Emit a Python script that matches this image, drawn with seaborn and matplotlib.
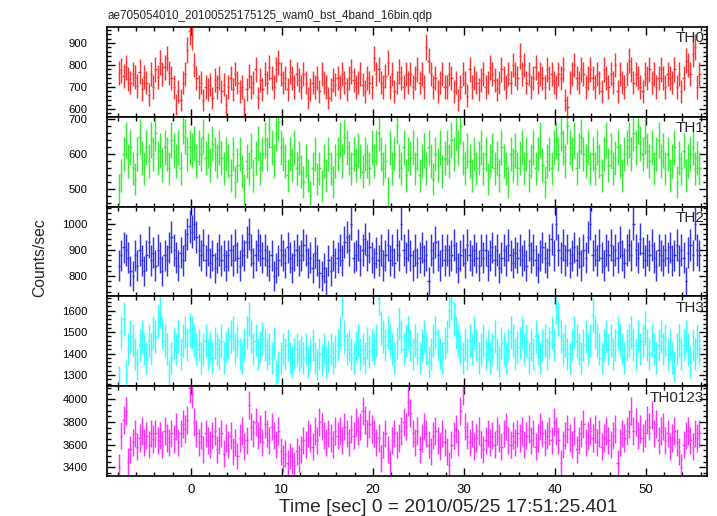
import numpy as np
import pandas as pd
import seaborn as sns
import matplotlib
matplotlib.use("Agg")
import matplotlib.pyplot as plt
from matplotlib.ticker import MultipleLocator

# ---- data (rates in counts/sec, 0.25 s bins starting at t = -8 s) ----
title = "ae705054010_20100525175125_wam0_bst_4band_16bin.qdp"
xlabel = "Time [sec] 0 = 2010/05/25 17:51:25.401"
ylabel = "Counts/sec"

t_start = -8.0
bin_width = 0.25

bands = ["TH0", "TH1", "TH2", "TH3", "TH0123"]
colors = ["#ff3535", "#35ee35", "#3535ee", "#35ffff", "#ff35ff"]

th0 = [765, 775, 750, 790, 735, 720, 760, 745, 705, 770, 690, 745, 720, 665, 760, 700,
       780, 745, 810, 760, 790, 830, 765, 740, 700, 620, 680, 640, 720, 760, 870, 955,
       930, 800, 740, 700, 720, 640, 700, 690, 710, 650, 730, 700, 740, 680, 710, 620,
       700, 740, 690, 760, 720, 680, 700, 600, 690, 750, 700, 720, 780, 650, 730, 690,
       760, 720, 790, 740, 700, 780, 810, 760, 720, 740, 690, 770, 740, 700, 760, 730,
       700, 760, 720, 650, 690, 720, 700, 740, 680, 760, 720, 700, 650, 690, 730, 710,
       740, 700, 760, 720, 690, 740, 770, 730, 700, 720, 760, 710, 680, 740, 720, 700,
       830, 760, 780, 720, 700, 750, 810, 700, 760, 680, 720, 770, 740, 700, 760, 720,
       760, 700, 740, 780, 720, 760, 700, 880, 820, 760, 700, 740, 680, 720, 760, 700,
       700, 760, 740, 680, 720, 640, 700, 760, 720, 660, 780, 700, 740, 720, 690, 730,
       760, 700, 720, 790, 760, 730, 690, 720, 780, 740, 700, 760, 720, 800, 760, 740,
       840, 760, 800, 720, 760, 700, 740, 790, 720, 760, 740, 700, 780, 740, 760, 720,
       700, 760, 740, 780, 640, 610, 720, 760, 800, 740, 720, 780, 760, 700, 740, 780,
       740, 700, 760, 720, 680, 780, 740, 700, 760, 720, 800, 680, 760, 720, 700, 760,
       820, 780, 720, 760, 740, 700, 680, 760, 740, 780, 720, 760, 700, 740, 780, 740,
       700, 760, 740, 720, 780, 700, 760, 680, 740, 820, 800, 760, 850, 880, 700, 760]

th1 = [500, 540, 600, 640, 580, 620, 560, 530, 600, 650, 590, 560, 620, 580, 640, 600,
       660, 590, 610, 570, 620, 600, 560, 640, 610, 580, 620, 560, 680, 650, 600, 620,
       610, 630, 580, 620, 600, 650, 590, 610, 570, 630, 600, 580, 620, 590, 560, 600,
       580, 540, 600, 520, 570, 600, 550, 500, 580, 560, 610, 540, 590, 630, 560, 600,
       640, 600, 670, 620, 580, 660, 690, 620, 600, 580, 540, 600, 570, 620, 560, 590,
       550, 520, 580, 540, 480, 560, 600, 530, 560, 510, 580, 540, 600, 560, 520, 580,
       600, 640, 580, 650, 620, 590, 560, 600, 570, 610, 580, 550, 600, 580, 560, 620,
       580, 620, 660, 600, 560, 580, 490, 620, 560, 600, 680, 580, 560, 620, 540, 600,
       590, 620, 560, 600, 540, 580, 610, 560, 620, 580, 530, 600, 570, 620, 550, 590,
       620, 580, 640, 600, 660, 620, 680, 590, 560, 610, 580, 540, 600, 560, 590, 620,
       560, 600, 530, 580, 610, 560, 590, 540, 620, 580, 560, 520, 600, 570, 610, 560,
       590, 620, 560, 600, 540, 580, 620, 560, 600, 640, 570, 520, 580, 600, 560, 620,
       640, 600, 660, 620, 580, 680, 620, 600, 640, 560, 610, 650, 600, 580, 620, 560,
       600, 560, 620, 580, 540, 600, 640, 570, 610, 560, 590, 620, 580, 540, 600, 620,
       640, 600, 660, 620, 680, 630, 600, 650, 610, 580, 620, 560, 600, 640, 580, 610,
       560, 600, 540, 580, 620, 520, 590, 560, 610, 540, 580, 600, 620, 560, 590, 560]

th2 = [840, 880, 910, 900, 870, 820, 800, 880, 840, 900, 860, 820, 880, 930, 860, 890,
       840, 900, 870, 820, 880, 860, 910, 950, 900, 870, 840, 890, 860, 920, 960, 990,
       970, 1000, 950, 900, 880, 920, 860, 900, 850, 880, 830, 870, 900, 860, 880, 840,
       880, 900, 860, 920, 870, 840, 900, 880, 930, 960, 900, 850, 880, 920, 900, 870,
       900, 860, 840, 880, 800, 830, 860, 900, 880, 850, 910, 870, 830, 880, 900, 860,
       880, 920, 900, 850, 870, 830, 890, 860, 810, 800, 830, 780, 860, 820, 880, 850,
       870, 900, 860, 930, 950, 900, 1000, 870, 880, 920, 860, 900, 940, 880, 910, 870,
       850, 890, 860, 900, 840, 880, 920, 860, 900, 850, 920, 880, 1000, 900, 870, 920,
       880, 840, 900, 850, 870, 910, 860, 880, 780, 900, 870, 930, 880, 840, 900, 860,
       900, 860, 880, 920, 870, 830, 880, 900, 850, 920, 880, 860, 900, 870, 840, 900,
       870, 900, 840, 880, 910, 860, 900, 830, 870, 900, 860, 920, 880, 850, 890, 870,
       900, 860, 880, 840, 920, 870, 900, 860, 830, 880, 910, 870, 850, 900, 940, 880,
       1000, 900, 870, 920, 860, 900, 850, 880, 910, 860, 890, 840, 900, 870, 950, 1000,
       880, 900, 860, 920, 870, 840, 900, 880, 920, 860, 900, 870, 930, 880, 850, 900,
       920, 880, 1000, 900, 870, 940, 890, 860, 900, 880, 920, 870, 840, 900, 880, 860,
       900, 870, 910, 860, 880, 920, 860, 900, 870, 780, 890, 920, 880, 1000, 900, 880]

th3 = [1270, 1500, 1560, 1300, 1420, 1480, 1460, 1400, 1350, 1440, 1480, 1420, 1380, 1460, 1420, 1500,
       1480, 1550, 1600, 1500, 1460, 1420, 1300, 1380, 1450, 1420, 1480, 1400, 1460, 1500, 1440, 1510,
       1500, 1460, 1420, 1440, 1380, 1420, 1460, 1400, 1430, 1380, 1450, 1420, 1400, 1460, 1380, 1430,
       1450, 1480, 1500, 1420, 1460, 1400, 1380, 1440, 1500, 1560, 1480, 1420, 1460, 1400, 1430, 1470,
       1440, 1400, 1420, 1380, 1450, 1300, 1340, 1380, 1420, 1400, 1440, 1380, 1360, 1400, 1420, 1390,
       1410, 1380, 1420, 1360, 1400, 1440, 1380, 1350, 1400, 1370, 1420, 1360, 1390, 1420, 1380, 1410,
       1440, 1500, 1650, 1480, 1420, 1440, 1400, 1380, 1430, 1460, 1400, 1420, 1380, 1450, 1410, 1440,
       1420, 1460, 1660, 1520, 1480, 1440, 1500, 1460, 1420, 1380, 1450, 1540, 1480, 1420, 1460, 1500,
       1440, 1400, 1460, 1420, 1380, 1440, 1480, 1420, 1360, 1400, 1460, 1500, 1440, 1400, 1380, 1450,
       1480, 1600, 1640, 1560, 1500, 1460, 1420, 1380, 1440, 1400, 1460, 1420, 1500, 1440, 1380, 1420,
       1460, 1400, 1440, 1380, 1420, 1480, 1400, 1360, 1450, 1420, 1380, 1440, 1500, 1460, 1400, 1430,
       1450, 1500, 1420, 1460, 1380, 1440, 1400, 1480, 1420, 1380, 1440, 1460, 1400, 1450, 1500, 1440,
       1620, 1560, 1480, 1420, 1460, 1400, 1380, 1440, 1500, 1460, 1420, 1380, 1440, 1480, 1420, 1460,
       1580, 1500, 1460, 1420, 1380, 1440, 1480, 1420, 1460, 1400, 1440, 1500, 1460, 1420, 1380, 1440,
       1460, 1500, 1440, 1400, 1480, 1420, 1460, 1520, 1440, 1400, 1460, 1420, 1380, 1440, 1480, 1420,
       1460, 1400, 1440, 1380, 1340, 1420, 1460, 1400, 1440, 1480, 1420, 1360, 1440, 1400, 1460, 1420]

th0123 = [3400, 3680, 3820, 3900, 3450, 3560, 3620, 3700, 3580, 3660, 3720, 3620, 3680, 3600, 3700, 3650,
          3700, 3640, 3680, 3600, 3720, 3660, 3620, 3700, 3650, 3760, 3620, 3700, 3780, 3740, 3820, 4100,
          4050, 3800, 3700, 3620, 3680, 3560, 3700, 3640, 3600, 3680, 3720, 3560, 3640, 3700, 3520, 3660,
          3600, 3680, 3540, 3620, 3500, 3660, 3720, 3580, 3640, 3950, 3760, 3700, 3800, 3680, 3740, 3620,
          3780, 3700, 3640, 3760, 3680, 3600, 3720, 3540, 3480, 3520, 3440, 3500, 3460, 3420, 3540, 3480,
          3560, 3640, 3600, 3700, 3660, 3580, 3720, 3640, 3800, 3760, 3680, 3620, 3700, 3660, 3600, 3720,
          3680, 3720, 3640, 3760, 3700, 3620, 3740, 3680, 3800, 3720, 3760, 3900, 3820, 3700, 3780, 3740,
          3700, 3620, 3660, 3480, 3600, 3700, 3560, 3440, 3640, 3700, 3600, 3660, 3720, 3800, 3760, 3980,
          3880, 3700, 3620, 3720, 3560, 3660, 3760, 3700, 3600, 3540, 3680, 3720, 3640, 3580, 3700, 3620,
          3540, 3420, 3600, 3680, 3740, 3620, 3900, 4080, 3760, 3680, 3620, 3700, 3580, 3660, 3720, 3600,
          3560, 3640, 3700, 3620, 3680, 3600, 3720, 3660, 3580, 3700, 3760, 3640, 3600, 3680, 3620, 3700,
          3660, 3720, 3600, 3680, 3740, 3640, 3700, 3580, 3660, 3760, 3700, 3620, 3680, 3720, 3640, 3800,
          3720, 3640, 3440, 3600, 3680, 3740, 3660, 3600, 3720, 3560, 3640, 3700, 3780, 3620, 3680, 3720,
          3660, 3740, 3620, 3700, 3580, 3660, 3720, 3640, 3600, 3680, 3740, 3440, 3620, 3700, 3660, 3720,
          3780, 3900, 3720, 3800, 3680, 3740, 3660, 3700, 3820, 3760, 3860, 3700, 3780, 3640, 3720, 3760,
          3640, 3700, 3580, 3660, 3720, 3620, 3540, 3400, 3600, 3680, 3720, 3640, 3580, 3700, 3660, 3700]

series = [th0, th1, th2, th3, th0123]
ylims = [(564, 973), (451, 706), (722, 1066), (1248, 1667), (3323, 4117)]
ymajor = [100, 100, 100, 100, 200]
yminor = [20, 20, 20, 20, 50]

# ---- plot ----
sns.set_theme(style="ticks")
plt.rcParams["font.family"] = ["Liberation Sans", "DejaVu Sans"]

fig = plt.figure(figsize=(7.17, 5.16), dpi=100)
axes = fig.subplots(5, 1, sharex=True)
fig.subplots_adjust(left=107 / 717, right=707 / 717, top=1 - 27 / 516,
                    bottom=1 - 476 / 516, hspace=0)

for ax, name, vals, col, yl, ymj, ymn in zip(axes, bands, series, colors,
                                             ylims, ymajor, yminor):
    rate = np.array(vals, dtype=float)
    t = t_start + bin_width * (np.arange(len(rate)) + 0.5)
    df = pd.DataFrame({"time": t, "rate": rate})
    # Poisson error of the binned rate
    df["err"] = np.sqrt(df["rate"] * bin_width) / bin_width
    ax.errorbar(df["time"], df["rate"], xerr=bin_width / 2, yerr=df["err"],
                fmt="none", ecolor=col, elinewidth=1.05, capsize=0)
    ax.set_ylim(*yl)
    ax.yaxis.set_major_locator(MultipleLocator(ymj))
    ax.yaxis.set_minor_locator(MultipleLocator(ymn))
    ax.xaxis.set_major_locator(MultipleLocator(10))
    ax.xaxis.set_minor_locator(MultipleLocator(2))
    ax.tick_params(which="both", direction="in", top=True, right=True,
                   colors="black", width=1.0)
    ax.tick_params(which="major", length=5.5)
    ax.tick_params(which="minor", length=2.8)
    ax.tick_params(axis="y", labelsize=8.1, pad=14)
    ax.tick_params(axis="x", labelsize=9.5, pad=6)
    for sp in ax.spines.values():
        sp.set_color("black")
        sp.set_linewidth(1.2)
    ax.text(0.995, 0.95, name, transform=ax.transAxes, ha="right", va="top",
            fontsize=11)
    ax.set_ylabel("")

axes[-1].set_xlim(-9.2, 56.7)

fig.text(107 / 717, 1 - 19 / 516, title, ha="left", va="baseline", fontsize=8.4)
fig.text(448 / 717, 1 - 512 / 516, xlabel, ha="center", va="baseline",
         fontsize=13.8)
fig.text(40 / 717, 1 - 258 / 516, ylabel, rotation=90, ha="center",
         va="center", fontsize=11.3)

fig.savefig("out.png", dpi=100)
